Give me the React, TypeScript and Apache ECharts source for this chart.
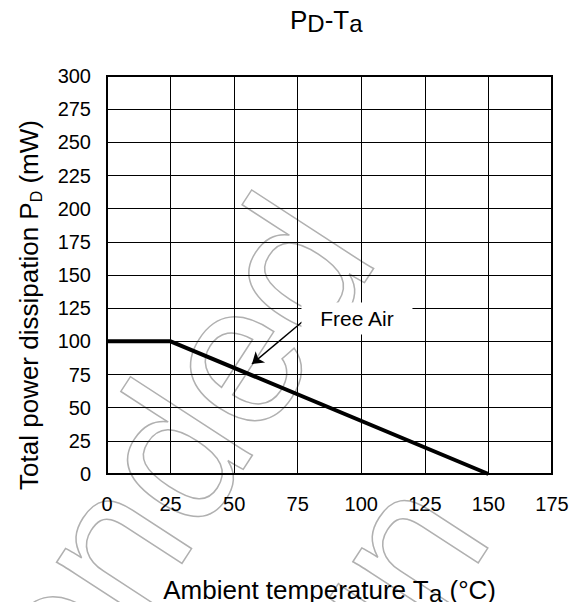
import React, { useEffect, useRef } from "react";
import * as echarts from "echarts";

// Derating curve: ambient temperature (°C) vs total power dissipation (mW)
const curveTa = [0, 25, 150];
const curvePd = [100, 100, 0];

const xMin = 0;
const xMax = 175;
const xStep = 25;
const yMin = 0;
const yMax = 300;
const yStep = 25;

// Annotation (data coordinates)
const annotationText = "Free Air";
const annotationPos = [98.3, 117.3];
const arrowStart = [76.7, 114.6];
const arrowEnd = [57.0, 82.9];

// Watermark lines
const watermarkLines = ["Not recommended", "for new design"];

const FONT = '"Liberation Sans", Arial, Helvetica, sans-serif';

export default function App() {
  const ref = useRef<HTMLDivElement>(null);

  useEffect(() => {
    if (!ref.current) return;
    const chart = echarts.init(ref.current, undefined, { renderer: "svg" });

    const wmDeg = 57;
    const wmRot = (wmDeg * Math.PI) / 180;
    const wmFont = 200;
    const bx = Math.cos(wmRot);
    const by = -Math.sin(wmRot);
    const dx = Math.sin(wmRot);
    const dy = Math.cos(wmRot);
    // baseline end of first line
    const e1x = 381;
    const e1y = 258;
    const l1x = e1x + 0.15 * wmFont * dx;
    const l1y = e1y + 0.15 * wmFont * dy;
    const lineGap = 1.24 * wmFont;
    const shift = -0.861 * wmFont;
    const l2x = l1x + lineGap * dx + shift * bx;
    const l2y = l1y + lineGap * dy + shift * by;

    const wmStyle = {
      fill: "none",
      stroke: "#b0b0b0",
      lineWidth: 1.5,
      fontSize: wmFont,
      fontFamily: FONT,
      align: "right",
      verticalAlign: "bottom",
    };

    chart.setOption({
      animation: false,
      backgroundColor: "#ffffff",
      textStyle: { fontFamily: FONT, color: "#000" },
      title: {
        text: "{m|P}{s|D}{m|-T}{s|a}",
        left: 285,
        top: 0,
        textStyle: {
          fontWeight: "normal",
          rich: {
            m: { fontSize: 26, fontFamily: FONT, color: "#000", fontWeight: "normal", lineHeight: 30 },
            s: { fontSize: 24, fontFamily: FONT, color: "#000", fontWeight: "normal", lineHeight: 22, verticalAlign: "bottom" },
          },
        },
      },
      graphic: [
        {
          type: "text",
          x: l1x,
          y: l1y,
          rotation: wmRot,
          z: -10,
          silent: true,
          style: { ...wmStyle, text: watermarkLines[0] },
        },
        {
          type: "text",
          x: l2x,
          y: l2y,
          rotation: wmRot,
          z: -10,
          silent: true,
          style: { ...wmStyle, text: watermarkLines[1] },
        },
      ],
      grid: {
        left: 107,
        right: 30,
        top: 76,
        bottom: 135,
        show: true,
        borderColor: "#000",
        borderWidth: 2,
        backgroundColor: "transparent",
      },
      xAxis: {
        type: "value",
        min: xMin,
        max: xMax,
        interval: xStep,
        name: "{m|Ambient temperature T}{s|a}{m| (°C)}",
        nameLocation: "middle",
        nameGap: 101,
        nameTextStyle: {
          rich: {
            m: { fontSize: 26, fontFamily: FONT, color: "#000", lineHeight: 30 },
            s: { fontSize: 24, fontFamily: FONT, color: "#000", lineHeight: 22, verticalAlign: "bottom" },
          },
        },
        axisLine: { show: true, onZero: false, lineStyle: { color: "#000", width: 2 } },
        axisTick: { show: false },
        axisLabel: { fontSize: 20, color: "#000", margin: 20, fontFamily: FONT },
        splitLine: { show: true, lineStyle: { color: "#000", width: 1 } },
      },
      yAxis: {
        type: "value",
        min: yMin,
        max: yMax,
        interval: yStep,
        name: "{m|Total power dissipation P}{s|D}{m| (mW)}",
        nameLocation: "middle",
        nameGap: 63,
        nameTextStyle: {
          padding: [0, 60, 0, 0],
          rich: {
            m: { fontSize: 26, fontFamily: FONT, color: "#000", lineHeight: 30 },
            s: { fontSize: 16, fontFamily: FONT, color: "#000", lineHeight: 18, verticalAlign: "bottom" },
          },
        },
        axisLine: { show: true, onZero: false, lineStyle: { color: "#000", width: 2 } },
        axisTick: { show: false },
        axisLabel: { fontSize: 20, color: "#000", margin: 16, fontFamily: FONT },
        splitLine: { show: true, lineStyle: { color: "#000", width: 1 } },
      },
      series: [
        {
          type: "line",
          data: curveTa.map((t, i) => [t, curvePd[i]]),
          showSymbol: false,
          symbol: "none",
          lineStyle: { color: "#000", width: 4 },
          silent: true,
          markLine: {
            silent: true,
            symbol: ["none", "arrow"],
            symbolSize: 11,
            label: { show: false },
            lineStyle: { color: "#000", width: 1.5, type: "solid" },
            data: [[{ coord: arrowStart }, { coord: arrowEnd }]],
          },
          markPoint: {
            silent: true,
            symbol: "rect",
            symbolSize: [111, 32],
            itemStyle: { color: "#fff" },
            label: {
              show: true,
              position: "inside",
              formatter: annotationText,
              color: "#000",
              fontSize: 21,
              fontFamily: FONT,
            },
            data: [{ coord: annotationPos }],
          },
        },
      ],
    });

    return () => chart.dispose();
  }, []);

  return <div ref={ref} style={{ width: 582, height: 610, margin: -8 }} />;
}
